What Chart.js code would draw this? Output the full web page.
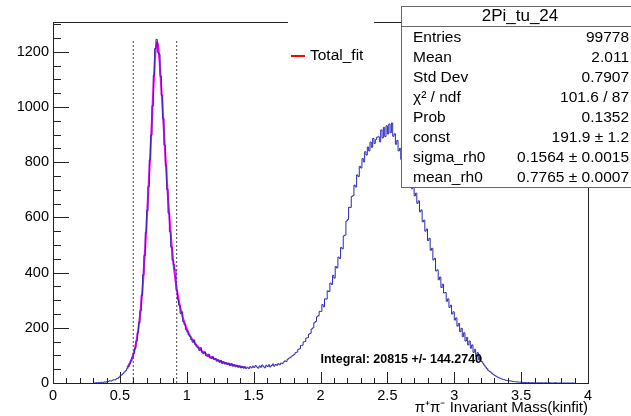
<!DOCTYPE html>
<html>
<head>
<meta charset="UTF-8">
<title>2Pi_tu_24</title>
<script src="https://cdn.jsdelivr.net/npm/chart.js@4.4.0/dist/chart.umd.min.js"></script>
<style>
  html, body { margin: 0; padding: 0; background: #fff; }
</style>
</head>
<body>
<canvas id="hist" width="631" height="416"></canvas>
<script>
// histogram: 0.01 wide bins starting at 0.30
const binStart = 0.30;
const binWidth = 0.01;
const counts = [
  0, 0, 1, 0, 2, 1, 3, 2, 4, 3,
  5, 6, 8, 7, 10, 12, 11, 15, 17, 21,
  26, 30, 34, 40, 45, 52, 60, 70, 80, 94,
  108, 126, 152, 182, 218, 262, 318, 392, 462, 545,
  625, 712, 808, 898, 1005, 1115, 1212, 1245, 1198, 1192,
  1112, 1042, 958, 862, 788, 702, 615, 548, 492, 445,
  428, 410, 335, 302, 282, 252, 258, 222, 212, 193,
  186, 174, 169, 157, 148, 156, 139, 131, 127, 118,
  128, 111, 106, 113, 99, 97, 104, 91, 89, 96,
  85, 89, 79, 84, 75, 82, 71, 77, 69, 74,
  67, 72, 63, 70, 61, 66, 59, 64, 57, 62,
  55, 60, 54, 58, 53, 57, 52, 59, 55, 61,
  56, 63, 58, 54, 62, 57, 65, 59, 55, 64,
  60, 66, 58, 63, 69, 61, 67, 64, 70, 66,
  72, 70, 76, 80, 78, 86, 90, 92, 97, 100,
  104, 110, 112, 122, 124, 136, 137, 149, 150, 163,
  164, 177, 180, 196, 200, 218, 223, 240, 244, 260,
  259, 284, 276, 305, 304, 334, 331, 362, 357, 390,
  380, 422, 417, 456, 451, 491, 486, 533, 536, 587,
  592, 637, 636, 676, 679, 717, 710, 754, 748, 785,
  779, 813, 801, 838, 826, 855, 841, 873, 854, 886,
  868, 882, 891, 892, 874, 917, 888, 926, 893, 932,
  902, 938, 907, 942, 894, 903, 865, 879, 841, 850,
  810, 822, 784, 795, 756, 768, 730, 741, 704, 716,
  678, 688, 651, 660, 620, 627, 584, 590, 550, 558,
  516, 524, 481, 488, 446, 452, 406, 410, 374, 384,
  346, 358, 326, 328, 296, 305, 274, 282, 250, 258,
  228, 236, 206, 216, 186, 198, 168, 182, 152, 165,
  138, 152, 126, 138, 111, 122, 96, 110, 84, 96,
  78, 72, 65, 58, 52, 46, 42, 39, 34, 30,
  27, 24, 21, 19, 17, 15, 13, 12, 10, 9,
  9, 8, 7, 6, 5, 5, 4, 4, 3, 3,
  3, 2, 2, 2, 1, 2, 1, 1, 1, 1,
  1, 0, 1, 1, 0, 1, 0, 0, 1, 0,
  0, 1, 0, 0, 0, 1, 0, 0, 0, 0,
  0, 0, 0, 0, 0, 0, 0, 0, 0, 0
];

// Total_fit curve (magenta)
const fitX = [0.555, 0.575, 0.595, 0.615, 0.635, 0.655, 0.675, 0.695, 0.715, 0.735,
              0.745, 0.755, 0.765, 0.775, 0.785, 0.795, 0.805, 0.815, 0.835, 0.855,
              0.875, 0.895, 0.915, 0.935, 0.955, 0.985, 1.015, 1.055, 1.105, 1.155,
              1.205, 1.255, 1.305, 1.355, 1.405, 1.445];
const fitY = [55, 72, 95, 130, 185, 265, 380, 540, 715, 905,
              1010, 1110, 1195, 1235, 1225, 1175, 1105, 1030, 865, 705,
              570, 460, 375, 312, 265, 215, 180, 148, 120, 101,
              88, 78, 70, 64, 59, 56];

// integration window
const cutLines = [0.6, 0.925];
const cutHeight = 1245;

const yMax = 1308;
const xTitle = 'π⁺π⁻ Invariant Mass(kinfit)';
const statLabels = ['Entries', 'Mean', 'Std Dev', 'χ² / ndf', 'Prob', 'const', 'sigma_rh0', 'mean_rh0'];
const statValues = ['99778', '2.011', '0.7907', '101.6 / 87', '0.1352', '191.9 ± 1.2', '0.1564 ± 0.0015', '0.7765 ± 0.0007'];

const histPoints = counts.map((c, i) => ({ x: binStart + i * binWidth, y: c }));
histPoints.push({ x: binStart + counts.length * binWidth, y: counts[counts.length - 1] });
const fitPoints = fitX.map((x, i) => ({ x: x, y: fitY[i] }));

const FONT = "'Liberation Sans', Arial, sans-serif";
Chart.defaults.font.family = FONT;
Chart.defaults.color = '#000';

// ROOT style frame, inward ticks, legend and stats box
const rootFrame = {
  id: 'rootFrame',
  afterDraw(chart) {
    const ctx = chart.ctx;
    const a = chart.chartArea;
    const xs = chart.scales.x, ys = chart.scales.y;
    ctx.save();
    ctx.strokeStyle = '#222';
    ctx.lineWidth = 1;
    ctx.strokeRect(a.left + 0.5, a.top + 0.5, a.right - a.left, a.bottom - a.top);

    ctx.beginPath();
    for (let i = 0; i * 50 <= 1300; i++) {
      const py = Math.round(ys.getPixelForValue(i * 50)) + 0.5;
      const len = i % 4 === 0 ? 16 : 8;
      ctx.moveTo(a.left, py);
      ctx.lineTo(a.left + len, py);
    }
    for (let i = 0; i <= 40; i++) {
      const px = Math.round(xs.getPixelForValue(i / 10)) + 0.5;
      const len = i % 5 === 0 ? 11 : 5;
      ctx.moveTo(px, a.bottom);
      ctx.lineTo(px, a.bottom - len);
    }
    ctx.stroke();

    ctx.fillStyle = '#000';
    ctx.textBaseline = 'middle';

    // axis title
    ctx.font = '15px ' + FONT;
    ctx.textAlign = 'right';
    ctx.fillText(xTitle, a.right, 408);

    // integral label
    ctx.font = 'bold 12.5px ' + FONT;
    ctx.textAlign = 'left';
    ctx.fillText('Integral: 20815 +/- 144.2740', 320.5, 360);

    // legend
    ctx.fillStyle = '#fff';
    ctx.fillRect(288, 8, 86, 70);
    ctx.strokeStyle = '#ff0000';
    ctx.lineWidth = 2;
    ctx.beginPath();
    ctx.moveTo(291, 56);
    ctx.lineTo(305, 56);
    ctx.stroke();
    ctx.fillStyle = '#000';
    ctx.font = '15.5px ' + FONT;
    ctx.fillText('Total_fit', 310, 56);

    // stats box
    ctx.fillStyle = '#fff';
    ctx.fillRect(401, 6, 240, 181);
    ctx.strokeStyle = '#666';
    ctx.lineWidth = 1;
    ctx.strokeRect(401.5, 6.5, 240, 181);
    ctx.beginPath();
    ctx.moveTo(401, 26.5);
    ctx.lineTo(631, 26.5);
    ctx.stroke();
    ctx.fillStyle = '#000';
    ctx.textAlign = 'center';
    ctx.font = '17px ' + FONT;
    ctx.fillText('2Pi_tu_24', 520, 16.5);
    ctx.font = '15.5px ' + FONT;
    statLabels.forEach((lab, i) => {
      const ty = 37.5 + 20.1 * i;
      ctx.textAlign = 'left';
      ctx.fillText(lab, 413, ty);
      ctx.textAlign = 'right';
      ctx.fillText(statValues[i], 629, ty);
    });
    ctx.restore();
  }
};

const datasets = [
  {
    data: histPoints,
    stepped: 'before',
    borderColor: '#2a2ab4',
    borderWidth: 1,
    pointRadius: 0,
    fill: false
  },
  {
    data: fitPoints,
    borderColor: '#ff00ff',
    borderWidth: 2,
    pointRadius: 0,
    cubicInterpolationMode: 'monotone',
    fill: false
  }
];
cutLines.forEach(cx => {
  datasets.push({
    data: [{ x: cx, y: 0 }, { x: cx, y: cutHeight }],
    borderColor: '#444',
    borderWidth: 1,
    borderDash: [2, 2],
    pointRadius: 0,
    fill: false
  });
});

new Chart(document.getElementById('hist'), {
  type: 'line',
  data: { datasets: datasets },
  options: {
    responsive: false,
    animation: false,
    layout: { padding: { top: 22, right: 43, left: 0, bottom: 0 } },
    plugins: { legend: { display: false }, tooltip: { enabled: false } },
    scales: {
      x: {
        type: 'linear', min: 0, max: 4,
        grid: { display: false, drawTicks: false }, border: { display: false },
        ticks: { stepSize: 0.5, padding: 4, font: { size: 14.5 }, maxRotation: 0, autoSkip: false,
                 includeBounds: false, callback: v => String(v) },
        afterFit: s => { s.height = 33; }
      },
      y: {
        type: 'linear', min: 0, max: yMax,
        grid: { display: false, drawTicks: false }, border: { display: false },
        ticks: { stepSize: 200, padding: 4, font: { size: 14.5 }, includeBounds: false,
                 callback: v => String(v) },
        afterFit: s => { s.width = 53; }
      }
    }
  },
  plugins: [rootFrame]
});
</script>
</body>
</html>
